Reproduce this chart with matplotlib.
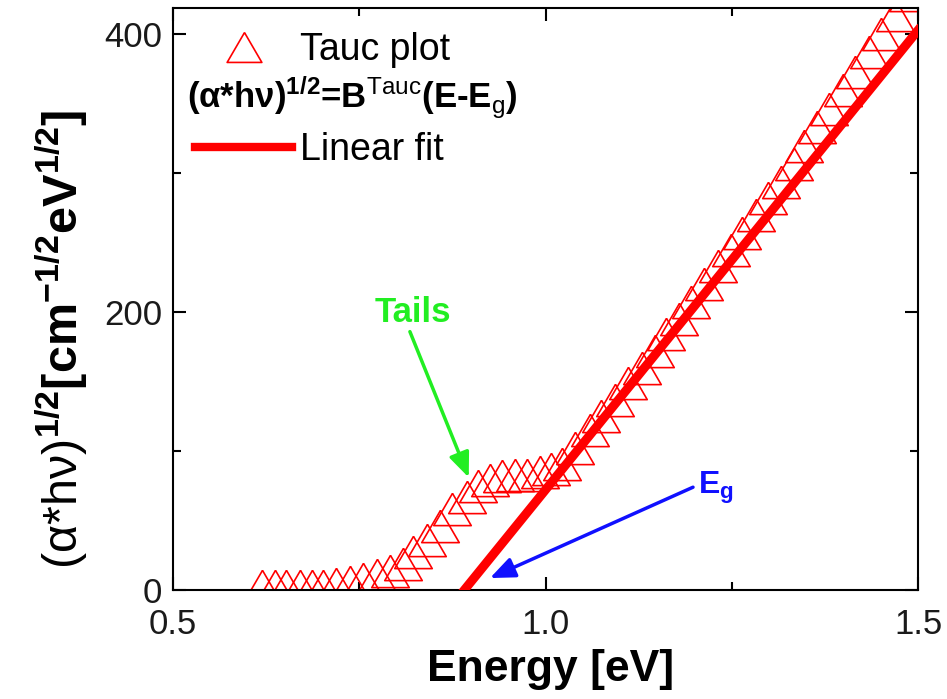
import matplotlib
matplotlib.use('Agg')
import matplotlib.pyplot as plt
from matplotlib.lines import Line2D
from matplotlib.ticker import MultipleLocator, FormatStrFormatter

plt.rcParams['font.family'] = ['Liberation Sans', 'DejaVu Sans']
plt.rcParams['mathtext.fontset'] = 'custom'
plt.rcParams['mathtext.rm'] = 'Liberation Sans'
plt.rcParams['mathtext.bf'] = 'Liberation Sans:bold'
plt.rcParams['mathtext.it'] = 'Liberation Sans:italic'

# Tauc plot points (energy in eV, (alpha*h*nu)^1/2)
energy = [0.619, 0.637, 0.652, 0.670, 0.686, 0.701, 0.719, 0.738, 0.755,
          0.774, 0.791, 0.809, 0.822, 0.841, 0.858, 0.874, 0.895, 0.909,
          0.925, 0.941, 0.959, 0.975, 0.993, 1.008, 1.022, 1.040, 1.060,
          1.075, 1.093, 1.111, 1.129, 1.147, 1.162, 1.179, 1.195, 1.213,
          1.231, 1.249, 1.264, 1.282, 1.298, 1.316, 1.334, 1.347, 1.364,
          1.381, 1.399, 1.416, 1.434, 1.451, 1.469, 1.486]
tauc = [3, 3, 3, 3, 3, 3, 4, 6, 8,
        11, 14, 19, 27, 36, 46, 58, 67, 75,
        79, 82, 83, 83, 85, 87, 91, 102, 115,
        125, 137, 149, 160, 172, 184, 195, 207, 220,
        233, 245, 257, 270, 282, 294, 307, 320, 333,
        346, 360, 373, 387, 400, 414, 428]

# linear fit of the straight part, it crosses zero at Eg
fit_energy = [0.891, 1.50]
fit_tauc = [0.0, 403.0]

# open triangle, a bit wider than tall like the Origin symbol
tri = [(0, 0.43), (-0.5, -0.43), (0.5, -0.43), (0, 0.43)]

RED = '#ff0000'
GREEN = '#22ee22'
BLUE = '#1010ff'


def main():
    fig = plt.figure(figsize=(9.47, 6.99), dpi=100)
    ax = fig.add_axes([173 / 947, 109 / 699, 745 / 947, 582 / 699])

    ax.plot(energy, tauc, ls='none', marker=tri, markersize=27,
            mfc='none', mec=RED, mew=1.2, zorder=2)
    ax.plot(fit_energy, fit_tauc, color=RED, lw=6.5,
            solid_capstyle='projecting', zorder=3)

    ax.set_xlim(0.5, 1.5)
    ax.set_ylim(0, 419)
    ax.xaxis.set_major_locator(MultipleLocator(0.5))
    ax.xaxis.set_minor_locator(MultipleLocator(0.25))
    ax.yaxis.set_major_locator(MultipleLocator(200))
    ax.yaxis.set_minor_locator(MultipleLocator(100))
    ax.xaxis.set_major_formatter(FormatStrFormatter('%.1f'))

    for s in ax.spines.values():
        s.set_linewidth(1.5)
    ax.tick_params(which='both', direction='in', top=True, right=True,
                   width=1.5, labelsize=25, labelcolor='#1a1a1a')
    ax.tick_params(which='major', length=9.5)
    ax.tick_params(which='minor', length=5.5)
    ax.tick_params(axis='x', pad=13)
    ax.tick_params(axis='y', pad=8)

    ax.set_xlabel('Energy [eV]', fontsize=32, fontweight='bold')
    ax.xaxis.set_label_coords(0.507, -0.102)
    ax.set_ylabel(r'$\mathrm{(α{*}hν)}^{\mathbf{1/2}}$[cm$^{\mathbf{-1/2}}$eV$^{\mathbf{1/2}}$]',
                  fontsize=35, fontweight='bold')
    ax.yaxis.set_label_coords(-0.112, 0.43)

    # legend: symbol row and fit row, formula sits between them
    handles = [Line2D([], [], ls='none', marker=tri, markersize=25,
                      mfc='none', mec=RED, mew=1.2),
               Line2D([], [], color=RED, lw=6)]
    ax.legend(handles, ['Tauc plot', 'Linear fit'], loc='upper left',
              bbox_to_anchor=(0.0295, 0.958), frameon=False, fontsize=27,
              handlelength=2.6, handletextpad=0.2, labelspacing=1.7,
              borderpad=0, borderaxespad=0, numpoints=1)
    ax.text(0.019, 0.828,
            r'(α*hν)$^{\mathbf{1/2}}$=B$^{\mathrm{Tauc}}$(E-E$_{\mathrm{g}}$)',
            transform=ax.transAxes, fontsize=25, fontweight='bold',
            va='baseline', ha='left')

    # Tails arrow
    ax.text(0.822, 200, 'Tails', color=GREEN, fontsize=25,
            fontweight='bold', ha='center', va='center')
    ax.annotate('', xy=(0.897, 81), xytext=(0.818, 186),
                arrowprops=dict(arrowstyle='-|>,head_length=0.6,head_width=0.25',
                                color=GREEN, lw=2.5, mutation_scale=25,
                                shrinkA=0, shrinkB=0))

    # Eg arrow
    ax.text(1.205, 69, r'E$_{\mathbf{g}}$', color=BLUE, fontsize=23,
            fontweight='bold', ha='left', va='baseline')
    ax.annotate('', xy=(0.9255, 8.6), xytext=(1.198, 74),
                arrowprops=dict(arrowstyle='-|>,head_length=0.6,head_width=0.25',
                                color=BLUE, lw=2.5, mutation_scale=25,
                                shrinkA=0, shrinkB=0))

    fig.savefig('out.png', dpi=100)
    plt.close(fig)


if __name__ == '__main__':
    main()
